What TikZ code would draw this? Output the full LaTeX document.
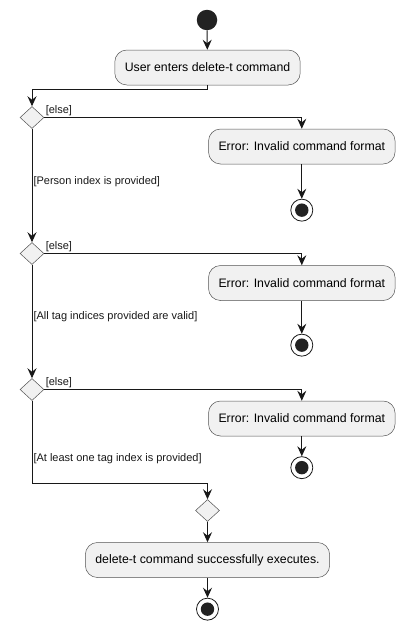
\documentclass[tikz,border=0pt]{standalone}
\usepackage{fontspec}
\setmainfont{Liberation Sans}
\usepackage{tikz}
\usetikzlibrary{shapes.geometric, arrows.meta, positioning, calc}

\definecolor{umlline}{HTML}{181818}
\definecolor{umlfill}{HTML}{F1F1F1}
\definecolor{umldot}{HTML}{222222}

\begin{document}
\begin{tikzpicture}[
    x=1pt, y=-1pt,
    action/.style={
      rectangle, draw=umlline!75, fill=umlfill, line width=0.5pt,
      rounded corners=12pt, minimum height=35pt, inner xsep=10pt,
      font=\fontsize{12.3}{14}\selectfont, align=center
    },
    decision/.style={
      diamond, draw=umlline!75, fill=umlfill, line width=0.5pt,
      minimum width=24pt, minimum height=22pt, inner sep=0pt
    },
    startdot/.style={circle, fill=umldot, minimum size=20.5pt, inner sep=0pt},
    enddot/.style={
      circle, draw=umlline, fill=white, line width=0.8pt,
      minimum size=22pt, inner sep=0pt,
      path picture={\fill[umldot] (path picture bounding box.center) circle (6.7pt);}
    },
    guard/.style={font=\fontsize{11}{13}\selectfont, inner sep=1pt},
    arr/.style={-{Stealth[length=10pt, width=9pt, inset=3.5pt]}, line width=1pt, umlline},
  ]
  \useasboundingbox (0,0) rectangle (404,629);

  \node[startdot] (start) at (207,20) {};
  \node[action] (enter) at (207.5,67.5) {User enters delete-t command};

  \node[decision] (chk1) at (32,117.5) {};
  \node[action] (err1) at (301.8,146.5) {Error: Invalid command format};
  \node[enddot, below=34.5pt of err1] (stop1) {};

  \node[decision] (chk2) at (32,253.5) {};
  \node[action] (err2) at (301.8,283) {Error: Invalid command format};
  \node[enddot, below=33pt of err2] (stop2) {};

  \node[decision] (chk3) at (32,389.5) {};
  \node[action] (err3) at (301.8,418.5) {Error: Invalid command format};
  \node[enddot, below=20pt of err3] (stop3) {};

  \node[decision] (merge) at (207.5,510.5) {};
  \node[action, below=20.5pt of merge] (done) {delete-t command successfully executes.};
  \node[enddot, below=20pt of done] (stopok) {};

  \coordinate (split) at (32,89);
  \coordinate (join) at (32,483);

  \draw[arr] (start) -- (enter);
  \draw[arr] (enter.south) |- (split) -- (chk1.north);

  \draw[arr] (chk1.east) -| node[guard, anchor=south west, pos=0] {[else]} (err1.north);
  \draw[arr] (err1) -- (stop1);
  \draw[arr] (chk1.south) -- node[guard, anchor=west, pos=0.47] {[Person index is provided]} (chk2.north);

  \draw[arr] (chk2.east) -| node[guard, anchor=south west, pos=0] {[else]} (err2.north);
  \draw[arr] (err2) -- (stop2);
  \draw[arr] (chk2.south) -- node[guard, anchor=west, pos=0.46] {[All tag indices provided are valid]} (chk3.north);

  \draw[arr] (chk3.east) -| node[guard, anchor=south west, pos=0] {[else]} (err3.north);
  \draw[arr] (err3) -- (stop3);
  \draw[line width=1pt, umlline] (chk3.south) -- node[guard, anchor=west, pos=0.7] {[At least one tag index is provided]} (join);
  \draw[arr] (join) -| (merge.north);

  \draw[arr] (merge) -- (done);
  \draw[arr] (done) -- (stopok);
\end{tikzpicture}
\end{document}
